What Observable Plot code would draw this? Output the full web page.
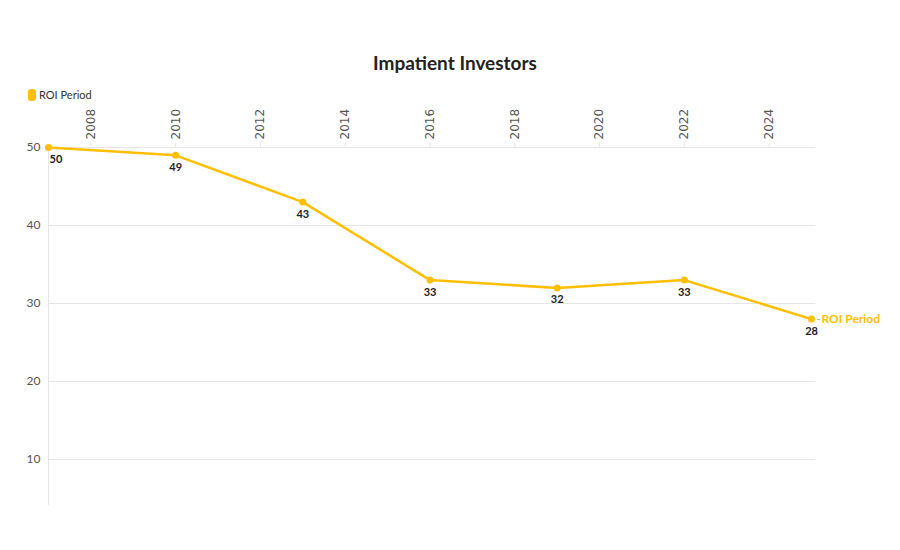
<!DOCTYPE html>
<html>
<head>
<meta charset="utf-8">
<script src="https://cdn.jsdelivr.net/npm/d3@7"></script>
<script src="https://cdn.jsdelivr.net/npm/@observablehq/plot@0.6"></script>
<style>
  body { margin: 0; background: #fff; font-family: "Source Sans Pro", Lato, "Open Sans", sans-serif; }
  #wrap { width: 900px; height: 550px; position: relative; }
  #header { height: 105px; position: relative; }
  #title { position: absolute; top: 51px; left: 0; width: 910px; text-align: center; font-size: 19px; font-weight: bold; color: #222; }
  #legend { position: absolute; top: 88px; left: 28px; font-size: 11px; color: #333; display: flex; align-items: center; }
  #legend .sw { width: 8px; height: 12px; border-radius: 3px; background: #FFBF00; margin-right: 3px; }
  svg { display: block; }
</style>
</head>
<body>
<div id="wrap">
  <div id="header">
    <div id="title">Impatient Investors</div>
    <div id="legend"><span class="sw"></span><span>ROI Period</span></div>
  </div>
  <div id="chart"></div>
</div>
<script>
const seriesName = "ROI Period";
const years = [2007, 2010, 2013, 2016, 2019, 2022, 2025];
const values = [50, 49, 43, 33, 32, 33, 28];
const xTicks = [2008, 2010, 2012, 2014, 2016, 2018, 2020, 2022, 2024];
const yTicks = [10, 20, 30, 40, 50];

const color = "#FFBF00";
const data = years.map((y, i) => ({year: y, value: values[i]}));
const last = data[data.length - 1];

const chart = Plot.plot({
  width: 900,
  height: 445,
  marginTop: 42,
  marginBottom: 45,
  marginLeft: 48,
  marginRight: 89,
  style: {fontFamily: "'Source Sans Pro', Lato, 'Open Sans', sans-serif", fontSize: "12px", color: "#555"},
  x: {domain: [2007, 2025], axis: null},
  y: {domain: [4.1, 50], axis: null},
  marks: [
    Plot.gridY(yTicks, {x1: 2007, x2: 2025.1, stroke: "#e6e6e6", strokeOpacity: 1}),
    Plot.ruleX([2007], {y1: 4.1, y2: 50, stroke: "#e6e6e6"}),
    Plot.axisY(yTicks, {anchor: "left", label: null, tickSize: 0, tickPadding: 8, fill: "#555", fontSize: 12}),
    Plot.axisX(xTicks, {anchor: "top", label: null, tickFormat: "d", tickSize: 5, tickPadding: 3, tickRotate: -90, stroke: "#e6e6e6", fill: "#555", fontSize: 12, fontFamily: "'DejaVu Sans', sans-serif"}),
    Plot.line(data, {x: "year", y: "value", stroke: color, strokeWidth: 2.5}),
    Plot.dot(data, {x: "year", y: "value", fill: color, r: 3.5}),
    Plot.text(data, {filter: (d, i) => i === 0, x: "year", y: "value", text: d => String(d.value), dy: 12, dx: 1, textAnchor: "start", fontWeight: "bold", fill: "#222", fontSize: 11}),
    Plot.text(data, {filter: (d, i) => i > 0, x: "year", y: "value", text: d => String(d.value), dy: 12, fontWeight: "bold", fill: "#222", fontSize: 11}),
    Plot.text([last], {x: "year", y: "value", text: () => "-", dx: 5, textAnchor: "start", fill: "#aaa", fontSize: 11}),
    Plot.text([last], {x: "year", y: "value", text: () => seriesName, dx: 10, textAnchor: "start", fill: color, fontWeight: "bold", fontSize: 12})
  ]
});
document.getElementById("chart").appendChild(chart);
</script>
</body>
</html>
